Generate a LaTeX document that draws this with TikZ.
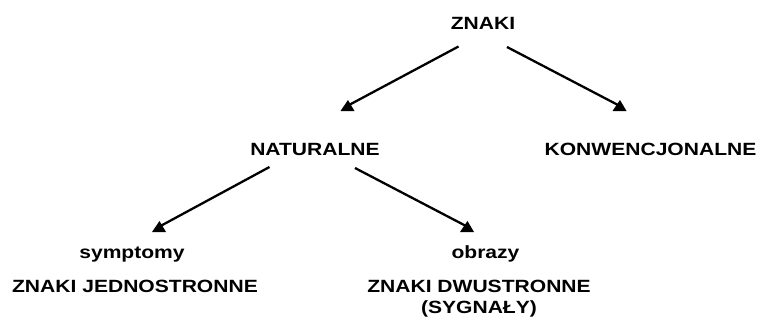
\documentclass[tikz,border=0pt]{standalone}
\usepackage{fontspec}
\setmainfont{Liberation Sans}
\newcommand{\wtx}[1]{\scalebox{1.19}[1]{#1}}
\begin{document}
\begin{tikzpicture}[x=1pt,y=-1pt,
  lbl/.style={inner sep=0pt,anchor=base,font=\bfseries\fontsize{17.7}{20.6}\selectfont,align=center},
  conn/.style={line width=2.3pt},
  headtri/.pic={\fill[black] (-7,0) -- (7,0) -- (0.5,-11) -- cycle;}]
\useasboundingbox (0,0) rectangle (760,321);
% labels
\node[lbl] (znaki) at (483,30) {\wtx{ZNAKI}};
\node[lbl] (nat) at (315,155) {\wtx{NATURALNE}};
\node[lbl] (konw) at (650.5,155.7) {\wtx{KONWENCJONALNE}};
\node[lbl] (sym) at (132,258.3) {\wtx{symptomy}};
\node[lbl] (jedn) at (135,292.7) {\wtx{ZNAKI JEDNOSTRONNE}};
\node[lbl] (obr) at (485.5,258.3) {\wtx{obrazy}};
\node[lbl] (dwu) at (479,313.3) {\wtx{ZNAKI DWUSTRONNE}\\\wtx{(SYGNAŁY)}};
% connector endpoints
\coordinate (s1) at (458.5,46.5);
\coordinate (s2) at (507,47);
\coordinate (s3) at (269.5,167);
\coordinate (s4) at (355,168);
\coordinate (e1) at (349,105);
\coordinate (e2) at (618,105);
\coordinate (e3) at (160.5,226);
\coordinate (e4) at (466,226);
\coordinate (h1) at (347.5,111);
\coordinate (h2) at (619.5,111);
\coordinate (h3) at (159,232);
\coordinate (h4) at (467,232);
% connectors
\draw[conn] (s1) -- (e1);
\draw[conn] (s2) -- (e2);
\draw[conn] (s3) -- (e3);
\draw[conn] (s4) -- (e4);
% heads
\pic at (h1) {headtri};
\pic at (h2) {headtri};
\pic at (h3) {headtri};
\pic at (h4) {headtri};
\end{tikzpicture}
\end{document}
